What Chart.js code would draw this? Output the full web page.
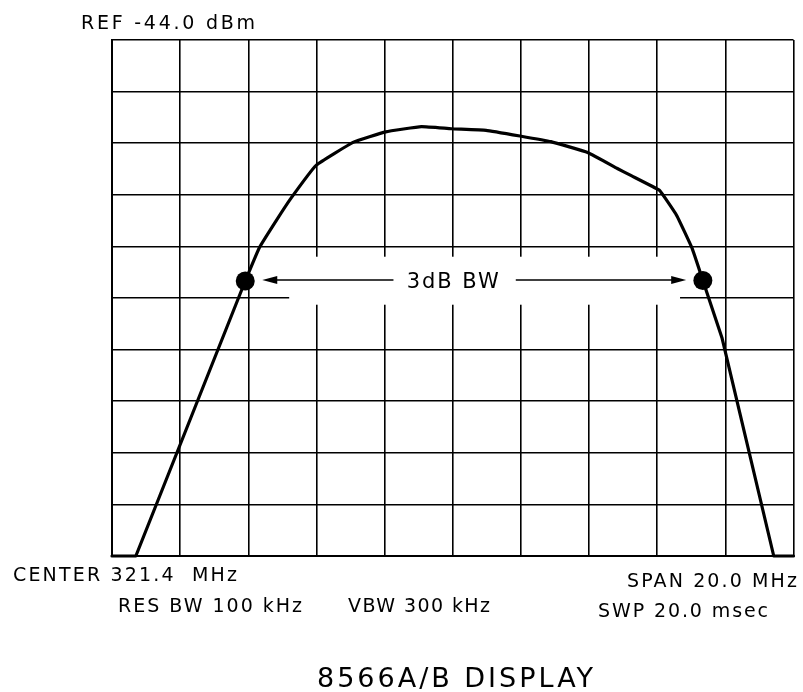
<!DOCTYPE html>
<html>
<head>
<meta charset="utf-8">
<title>8566A/B DISPLAY</title>
<script src="https://cdn.jsdelivr.net/npm/chart.js@4"></script>
<style>
    html, body { margin:0; padding:0; background:#fff; }
    #wrap { position:relative; width:803px; height:692px; }
</style>
</head>
<body>
<div id="wrap"><canvas id="chartCanvas"></canvas></div>
<script>

// trace: frequency (MHz) and level (dBm), 1 dB/div
const freqMHz = [311.4, 312.10, 315.31, 315.72, 316.22, 316.66, 317.39, 318.49, 319.43, 320.48,
    321.36, 322.38, 323.37, 324.28, 325.36, 326.23, 326.61, 327.46, 327.63, 327.98,
    328.42, 328.74, 329.30, 330.82, 331.4]
const levelDbm = [-54.0, -54.0, -48.67, -48.03, -47.50, -47.06, -46.43, -45.98, -45.78, -45.68,
    -45.72, -45.75, -45.86, -45.97, -46.18, -46.49, -46.62, -46.91, -47.06, -47.41,
    -48.03, -48.66, -49.77, -54.0, -54.0]

// the skirts are straight, the top is a gently smoothed curve: split at the markers
const leftSkirtEnd = 2
const rightSkirtStart = 21

// 3 dB bandwidth markers
const markerFreq = [315.31, 328.74]
const markerLevel = [-48.67, -48.66]

// graticule: 10 divisions each way
const xGrid = [311.4, 313.4, 315.4, 317.4, 319.4, 321.4, 323.4, 325.4, 327.4, 329.4, 331.4]
const yGrid = [-54, -53, -52, -51, -50, -49, -48, -47, -46, -45, -44]

const texts = {
    ref: "REF -44.0 dBm",
    center: "CENTER 321.4  MHz",
    span: "SPAN 20.0 MHz",
    resbw: "RES BW 100 kHz",
    vbw: "VBW 300 kHz",
    swp: "SWP 20.0 msec",
    bw: "3dB BW",
    title: "8566A/B DISPLAY"
}

// label placement in page pixels: left, baseline, width to fill, font size
const labelLayout = [
    { key:"ref",    x:81,  y:29,  w:174, size:19 },
    { key:"center", x:13,  y:581, w:224, size:19 },
    { key:"span",   x:627, y:587, w:170, size:19 },
    { key:"resbw",  x:118, y:612, w:184, size:19 },
    { key:"vbw",    x:348, y:612, w:142, size:19 },
    { key:"swp",    x:598, y:617, w:170, size:19 },
    { key:"title",  x:317, y:687, w:276, size:27 }
]

// annotation around the bandwidth arrows, in data units
const bwArrowLevel = -48.65
const leftArrow = [319.66, 315.81]   // tail, tip
const rightArrow = [323.25, 328.25]
const gapBox = { x0:316.6, x1:328.07, y0:-48.2, y1:-49.13 }

const FONT = '"DejaVu Sans", "Liberation Sans", sans-serif'

function fitText(ctx, str, x, y, width, size){
    ctx.font = size + "px " + FONT
    ctx.letterSpacing = "0px"
    const natural = ctx.measureText(str).width
    const ls = (width - natural) / (str.length - 1)
    ctx.letterSpacing = ls + "px"
    ctx.textAlign = "left"
    ctx.textBaseline = "alphabetic"
    ctx.fillText(str, x, y)
    ctx.letterSpacing = "0px"
}

function arrow(ctx, x0, x1, y){
    const dir = Math.sign(x1 - x0)
    ctx.beginPath()
    ctx.moveTo(x0, y)
    ctx.lineTo(x1 - dir * 14, y)
    ctx.stroke()
    ctx.beginPath()
    ctx.moveTo(x1, y)
    ctx.lineTo(x1 - dir * 15, y - 4)
    ctx.lineTo(x1 - dir * 15, y + 4)
    ctx.closePath()
    ctx.fill()
}

const bwPlugin = {
    id:"bwNotes",
    beforeDatasetsDraw(chart){
        const ctx = chart.ctx
        const xs = chart.scales.x
        const ys = chart.scales.y
        ctx.save()
        ctx.fillStyle = "#fff"
        const gx0 = xs.getPixelForValue(gapBox.x0)
        const gx1 = xs.getPixelForValue(gapBox.x1)
        const gy0 = ys.getPixelForValue(gapBox.y0)
        const gy1 = ys.getPixelForValue(gapBox.y1)
        ctx.fillRect(gx0, gy0, gx1 - gx0, gy1 - gy0)

        const ay = ys.getPixelForValue(bwArrowLevel)
        ctx.strokeStyle = "#000"
        ctx.fillStyle = "#000"
        ctx.lineWidth = 1.6
        arrow(ctx, xs.getPixelForValue(leftArrow[0]), xs.getPixelForValue(leftArrow[1]), ay)
        arrow(ctx, xs.getPixelForValue(rightArrow[0]), xs.getPixelForValue(rightArrow[1]), ay)

        const cx = xs.getPixelForValue(321.4)
        fitText(ctx, texts.bw, cx - 46, ay + 8, 92, 21)
        ctx.restore()
    },
    afterDraw(chart){
        const ctx = chart.ctx
        ctx.save()
        ctx.fillStyle = "#000"
        labelLayout.forEach(l => fitText(ctx, texts[l.key], l.x, l.y, l.w, l.size))
        ctx.restore()
    }
}

function tracePart(from, to, tension){
    const pts = []
    for(let i = from; i <= to; i++) pts.push({ x:freqMHz[i], y:levelDbm[i] })
    return {
        data:pts,
        borderColor:"#000",
        borderWidth:3.2,
        pointRadius:0,
        tension:tension,
        borderCapStyle:"round",
        borderJoinStyle:"round",
        clip:6
    }
}

const ctx = document.getElementById("chartCanvas")

new Chart(ctx,{

    type:"line",

    data:{
        datasets:[
            tracePart(0, leftSkirtEnd, 0),
            tracePart(leftSkirtEnd, rightSkirtStart, 0.1),
            tracePart(rightSkirtStart, freqMHz.length - 1, 0),
            {
                data:markerFreq.map((f, i) => ({ x:f, y:markerLevel[i] })),
                showLine:false,
                pointRadius:9.5,
                pointBackgroundColor:"#000",
                pointBorderColor:"#000",
                pointBorderWidth:0
            }
        ]
    },

    options:{
        responsive:true,
        maintainAspectRatio:false,
        animation:false,
        events:[],
        layout:{ padding:{ left:112, top:40, right:6, bottom:136 } },
        plugins:{ legend:{ display:false }, tooltip:{ enabled:false } },
        scales:{
            x:{
                type:"linear",
                min:311.4,
                max:331.4,
                afterBuildTicks:s => { s.ticks = xGrid.map(v => ({ value:v })) },
                ticks:{ display:false },
                grid:{ color:"#000", lineWidth:1.6, drawTicks:false },
                border:{ display:true, color:"#000", width:2 }
            },
            y:{
                type:"linear",
                min:-54,
                max:-44,
                afterBuildTicks:s => { s.ticks = yGrid.map(v => ({ value:v })) },
                ticks:{ display:false },
                grid:{ color:"#000", lineWidth:1.6, drawTicks:false },
                border:{ display:true, color:"#000", width:2 }
            }
        }
    },

    plugins:[bwPlugin]
})

</script>
</body>
</html>
